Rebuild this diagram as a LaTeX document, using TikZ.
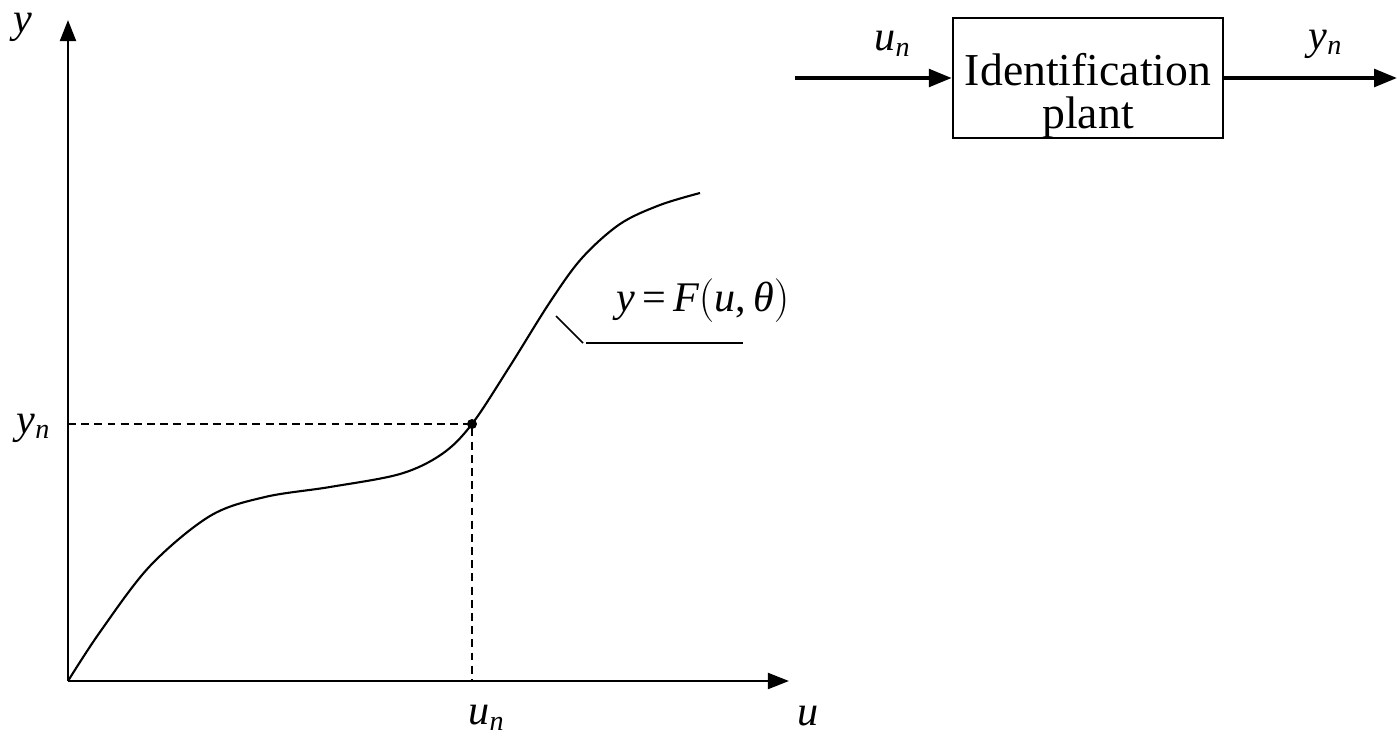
\documentclass[tikz,border=0pt]{standalone}
\usepackage{fontspec}
\setmainfont{Liberation Serif}
\usetikzlibrary{arrows.meta}

\tikzset{
  axis/.style={line width=1.6pt,-{Triangle[length=12pt,width=9pt]}},
  sig/.style={line width=2.1pt,-{Triangle[length=13pt,width=10pt]}},
  guide/.style={line width=1pt,dash pattern=on 4.5pt off 3pt},
  var/.style={font=\fontsize{24}{26}\selectfont\itshape},
}
\newcommand{\sub}[2]{#1\raisebox{-0.3ex}{\fontsize{16}{17}\selectfont #2}}

\begin{document}
\begin{tikzpicture}[x=0.02cm,y=-0.02cm]
    \useasboundingbox (0,0) rectangle (1397,737);

    % Axes
    \coordinate (O) at (68,681);
    \coordinate (ytop) at (68,20);
    \coordinate (xend) at (789,681);
    \draw[axis] (O) -- (ytop);
    \draw[axis] (O) -- (xend);
    \node[var] (ylab) at (23,27) {y};
    \node[var] (ulab) at (808,716) {u};

    % Curve y = F(u,theta)
    \draw[line width=1.2pt] plot[smooth,tension=0.55] coordinates {
      (68,681) (100,632) (150,566) (210,516) (265,497) (330,487)
      (400,474) (442,454) (472,424) (510,366) (550,302) (582,258)
      (620,224) (660,205) (700,193)};

    % Working point
    \coordinate (P) at (472,424);
    \coordinate (Py) at (68,424);
    \coordinate (Pu) at (472,681);
    \draw[guide] (Py) -- (P) -- (Pu);
    \fill (P) circle (5);
    \node[var] (yn) at (33,428) {\sub{y}{n}};
    \node[var] (un) at (486,718) {\sub{u}{n}};

    % Leader to the curve label
    \coordinate (lead1) at (556,316);
    \coordinate (lead2) at (583,343);
    \coordinate (lead3) at (743,343);
    \draw[line width=1pt] (lead1) -- (lead2);
    \draw[line width=1pt] (lead2) ++(3,0) -- (lead3);
    \node[font=\fontsize{24}{26}\selectfont] (Flab) at (703,301)
      {\itshape y\,\upshape=\,\itshape F\upshape\Big(\itshape u\upshape,\,\itshape θ\upshape\Big)};

    % Plant block
    \node[draw,line width=1.5pt,minimum width=270*0.02cm,minimum height=120*0.02cm,
          inner sep=0pt] (plant) at (1088,78) {};
    \node[align=center,inner sep=0pt,font=\fontsize{26}{24.5}\selectfont]
      (plantlab) at (1088,96) {Identification\\plant};
    \coordinate (in) at (795,78);
    \coordinate (out) at (1397,78);
    \draw[sig] (in) -- (in -| plant.west);
    \draw[sig] (plant.east |- out) -- (out);
    \node[var] (uin) at (892,44) {\sub{u}{n}};
    \node[var] (yout) at (1325,44) {\sub{y}{n}};
\end{tikzpicture}
\end{document}
